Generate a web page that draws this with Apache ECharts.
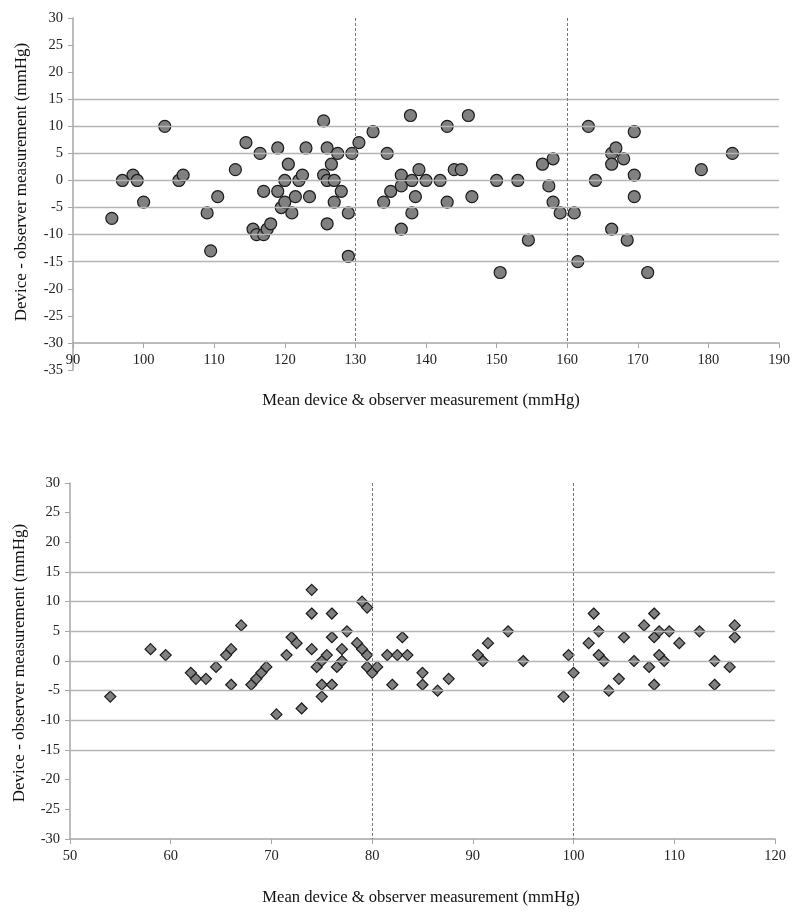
<!DOCTYPE html>
<html>
<head>
<meta charset="utf-8">
<script src="https://cdn.jsdelivr.net/npm/echarts@6/dist/echarts.min.js"></script>
<style>
html,body{margin:0;padding:0;background:#fff;}
#chart{width:800px;height:918px;}
</style>
</head>
<body>
<div id="chart"></div>
<script>
// Top panel: circles (x = mean, y = difference)
const topPoints = [
  [95.5,-7],[97,0],[98.5,1],[99.1,0],[100,-4],[103,10],[105,0],[105.6,1],[109,-6],[109.5,-13],
  [110.5,-3],[113,2],[114.5,7],[115.5,-9],[116,-10],[116.5,5],[117,-10],[117,-2],[117.5,-9],[118,-8],
  [119,6],[119,-2],[119.5,-5],[120,-4],[120,0],[120.5,3],[121,-6],[121.5,-3],[122,0],[122.5,1],
  [123,6],[123.5,-3],[125.5,11],[125.5,1],[126,6],[126,0],[126,-8],[126.6,3],[127,0],[127,-4],
  [127.5,5],[128,-2],[129,-6],[129,-14],[129.5,5],[130.5,7],[132.5,9],[134.5,5],[134,-4],[135,-2],
  [136.5,1],[136.5,-1],[136.5,-9],[137.8,12],[138,0],[139,2],[138.5,-3],[138,-6],[140,0],[142,0],
  [143,10],[143,-4],[144,2],[145,2],[146,12],[146.5,-3],[150,0],[150.5,-17],[153,0],[154.5,-11],
  [156.5,3],[158,4],[157.4,-1],[158,-4],[159,-6],[161,-6],[161.5,-15],[163,10],[164,0],[166.3,5],
  [166.9,6],[166.3,3],[168,4],[166.3,-9],[168.5,-11],[169.5,9],[169.5,1],[169.5,-3],[171.4,-17],[179,2],
  [183.4,5]
];
// Bottom panel: diamonds
const bottomPoints = [
  [54,-6],[58,2],[59.5,1],[62,-2],[62.5,-3],[63.5,-3],[64.5,-1],[65.5,1],[66,2],[66,-4],
  [67,6],[68,-4],[68.5,-3],[69,-2],[69.5,-1],[70.5,-9],[71.5,1],[72,4],[72.5,3],[73,-8],
  [74,12],[74,8],[74,2],[74.5,-1],[75,0],[75.5,1],[75,-4],[75,-6],[76,8],[76,4],
  [76,-4],[76.5,-1],[77,0],[77,2],[77.5,5],[78.5,3],[79,2],[79,10],[79.5,9],[79.5,1],
  [79.5,-1],[80,-2],[80.5,-1],[81.5,1],[82,-4],[82.5,1],[83,4],[83.5,1],[85,-2],[85,-4],
  [86.5,-5],[87.6,-3],[90.5,1],[91,0],[91.5,3],[93.5,5],[95,0],[99,-6],[99.5,1],[100,-2],
  [101.5,3],[102,8],[102.5,5],[102.5,1],[103,0],[103.5,-5],[104.5,-3],[105,4],[106,0],[107,6],
  [107.5,-1],[108,8],[108,4],[108,-4],[108.5,5],[108.5,1],[109,0],[109.5,5],[110.5,3],[112.5,5],
  [114,0],[114,-4],[115.5,-1],[116,6],[116,4]
];
const refLines = [-15,-10,-5,0,5,10,15];
const topVLines = [130,160];
const bottomVLines = [80,100];
const yTitle = 'Device - observer measurement (mmHg)';
const xTitle = 'Mean device & observer measurement (mmHg)';

const FONT = 'Liberation Serif';
const axisGray = '#a6a6a6';
const gridGray = '#b5b5b5';

function markLines(vlines, yTop, yBottom) {
  const data = refLines.map(v => ({ yAxis: v, lineStyle: { color: gridGray, width: 1.3, type: 'solid' } }));
  vlines.forEach(x => {
    data.push([{ coord: [x, yTop], lineStyle: { color: '#777', width: 1, type: [3, 2] } }, { coord: [x, yBottom] }]);
  });
  return { silent: true, symbol: 'none', label: { show: false }, animation: false, data: data };
}

function xAxisCfg(gridIndex, min, max, offset) {
  return {
    type: 'value', gridIndex: gridIndex, min: min, max: max, interval: 10, offset: offset,
    axisLine: { show: true, onZero: false, lineStyle: { color: axisGray, width: 1.5 } },
    axisTick: { show: true, inside: false, length: 5, lineStyle: { color: axisGray } },
    axisLabel: { color: '#222', fontFamily: FONT, fontSize: 14.5, margin: 10 },
    splitLine: { show: false }
  };
}
function yAxisCfg(gridIndex, min, max) {
  return {
    type: 'value', gridIndex: gridIndex, min: min, max: max, interval: 5,
    axisLine: { show: true, onZero: false, lineStyle: { color: axisGray, width: 1.5 } },
    axisTick: { show: true, inside: false, length: 5, lineStyle: { color: axisGray } },
    axisLabel: { color: '#222', fontFamily: FONT, fontSize: 14.5, margin: 10 },
    splitLine: { show: false }
  };
}

const chart = echarts.init(document.getElementById('chart'), null, { renderer: 'canvas' });
chart.setOption({
  animation: false,
  backgroundColor: '#fff',
  grid: [
    { left: 73, right: 21, top: 18, height: 352 },
    { left: 70, right: 25, top: 483, height: 356 }
  ],
  xAxis: [
    xAxisCfg(0, 90, 190, -27),
    xAxisCfg(1, 50, 120, 0)
  ],
  yAxis: [
    yAxisCfg(0, -35, 30),
    yAxisCfg(1, -30, 30)
  ],
  graphic: [
    { type: 'text', x: 22, y: 182, rotation: Math.PI / 2,
      style: { text: yTitle, font: '17px "Liberation Serif"', fill: '#111', textAlign: 'center', textVerticalAlign: 'middle' } },
    { type: 'text', x: 421, y: 401,
      style: { text: xTitle, font: '16.6px "Liberation Serif"', fill: '#111', textAlign: 'center', textVerticalAlign: 'middle' } },
    { type: 'text', x: 20, y: 663, rotation: Math.PI / 2,
      style: { text: yTitle, font: '17px "Liberation Serif"', fill: '#111', textAlign: 'center', textVerticalAlign: 'middle' } },
    { type: 'text', x: 421, y: 898,
      style: { text: xTitle, font: '16.6px "Liberation Serif"', fill: '#111', textAlign: 'center', textVerticalAlign: 'middle' } }
  ],
  series: [
    {
      type: 'scatter', xAxisIndex: 0, yAxisIndex: 0, data: topPoints,
      symbol: 'circle', symbolSize: 12,
      itemStyle: { color: '#808080', borderColor: '#1a1a1a', borderWidth: 1.2, opacity: 1 },
      markLine: markLines(topVLines, 30, -30), z: 3
    },
    {
      type: 'scatter', xAxisIndex: 1, yAxisIndex: 1, data: bottomPoints,
      symbol: 'diamond', symbolSize: 11,
      itemStyle: { color: '#808080', borderColor: '#1a1a1a', borderWidth: 1.2, opacity: 1 },
      markLine: markLines(bottomVLines, 30, -30), z: 3
    }
  ]
});
</script>
</body>
</html>
